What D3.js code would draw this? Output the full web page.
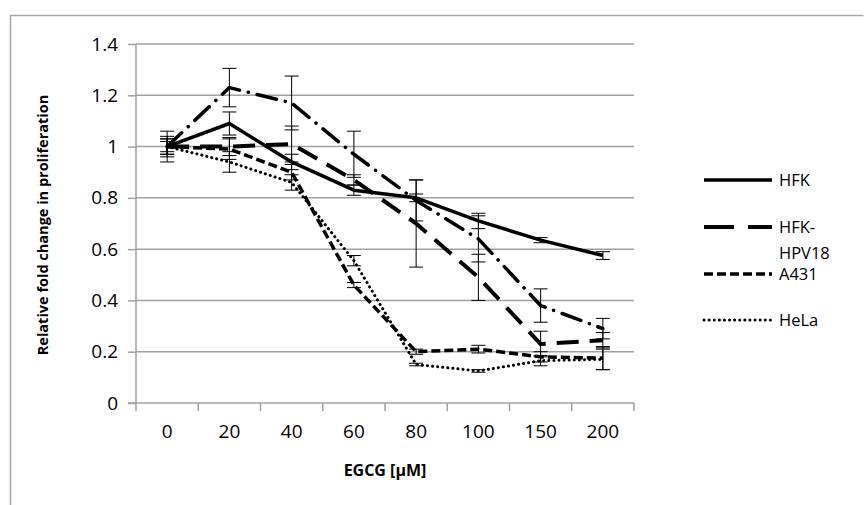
<!DOCTYPE html>
<html>
<head>
<meta charset="utf-8">
<script src="https://cdn.jsdelivr.net/npm/d3@7"></script>
<style>
body { margin: 0; background: #fff; }
svg { font-family: "Open Sans", "Noto Sans", sans-serif; }
</style>
</head>
<body>
<div id="chart"></div>
<script>
// EGCG doses (categories)
var doses = ["0", "20", "40", "60", "80", "100", "150", "200"];
var yTicks = [0, 0.2, 0.4, 0.6, 0.8, 1, 1.2, 1.4];

// values
var hfk      = [1.00, 1.09, 0.94, 0.83, 0.80, 0.71, 0.635, 0.575];
var hfkErr   = [0.03, 0.045, 0.03, 0.02, 0.015, 0.03, 0.01, 0.015];
var hpv18    = [1.00, 1.00, 1.01, 0.87, 0.70, 0.49, 0.23, 0.245];
var hpv18Err = [0.04, 0.035, 0.07, 0.02, 0.17, 0.09, 0.05, 0.03];
var a431     = [1.00, 0.99, 0.90, 0.46, 0.20, 0.21, 0.18, 0.175];
var a431Err  = [0.03, 0.04, 0.03, 0.01, 0.01, 0.015, 0.02, 0.045];
var hela     = [1.00, 0.94, 0.86, 0.555, 0.15, 0.125, 0.165, 0.17];
var helaErr  = [0.06, 0.04, 0.03, 0.02, 0.005, 0.005, 0.02, 0.04];
var other    = [1.00, 1.23, 1.17, 0.97, 0.79, 0.64, 0.38, 0.29];
var otherErr = [0.02, 0.075, 0.105, 0.09, 0.08, 0.09, 0.065, 0.04];

var series = [
  {name: "HFK", values: hfk, err: hfkErr, dash: null, w: 3.5, cap: "butt", legend: true},
  {name: "HFK-HPV18", values: hpv18, err: hpv18Err, dash: "22,11", w: 4, cap: "butt", legend: true},
  {name: "A431", values: a431, err: a431Err, dash: "9,4", w: 3.5, cap: "butt", legend: true},
  {name: "HeLa", values: hela, err: helaErr, dash: "0.1,5", w: 3, cap: "round", legend: true},
  {name: "", values: other, err: otherErr, dash: "20,9,0.1,9", w: 3.5, cap: "round", legend: false}
];

var W = 864, H = 505;
var margin = {left: 136, top: 44, right: 230, bottom: 102};

var svg = d3.select("#chart").append("svg")
  .attr("width", W).attr("height", H);

// outer chart frame
svg.append("path")
  .attr("d", "M10.5," + (H + 2) + "V15.5H863.5")
  .attr("fill", "none").attr("stroke", "#a6a6a6").attr("stroke-width", 1.5);

var xScale = d3.scaleBand().domain(doses).range([margin.left, 634]);
var yScale = d3.scaleLinear().domain([0, 1.4]).range([403, margin.top]);

// gridlines
svg.append("g").selectAll("line").data(yTicks.slice(1)).enter().append("line")
  .attr("x1", margin.left).attr("x2", 634)
  .attr("y1", function(d) { return yScale(d); })
  .attr("y2", function(d) { return yScale(d); })
  .attr("stroke", "#a0a0a0").attr("stroke-width", 1.5);

// y axis
var yaxis = d3.axisLeft(yScale).tickValues(yTicks).tickSize(8).tickPadding(10)
  .tickFormat(function(d) { return d3.format("")(+d.toFixed(1)); });
var gy = svg.append("g").attr("transform", "translate(" + margin.left + ",0)").call(yaxis);
gy.select(".domain").attr("stroke", "#a0a0a0").attr("stroke-width", 1.5)
  .attr("d", "M-8," + yScale(0) + "H0V" + yScale(1.4));
gy.selectAll(".tick line").attr("stroke", "#a0a0a0").attr("stroke-width", 1.5);
gy.selectAll("text").attr("font-size", 19).attr("fill", "#000")
  .attr("font-family", "Open Sans");

// x axis: ticks between categories
var xaxis = d3.axisBottom(xScale).tickSize(0).tickPadding(22);
var gx = svg.append("g").attr("transform", "translate(0," + yScale(0) + ")").call(xaxis);
gx.select(".domain").attr("stroke", "#a0a0a0").attr("stroke-width", 1.5)
  .attr("d", "M" + margin.left + ",0H634");
gx.selectAll("text").attr("font-size", 19).attr("fill", "#000")
  .attr("font-family", "Open Sans");
gx.selectAll(".sep").data(d3.range(doses.length + 1)).enter().append("line")
  .attr("class", "sep")
  .attr("x1", function(i) { return margin.left + i * xScale.step(); })
  .attr("x2", function(i) { return margin.left + i * xScale.step(); })
  .attr("y1", 0).attr("y2", 8)
  .attr("stroke", "#a0a0a0").attr("stroke-width", 1.5);

// axis titles
svg.append("text")
  .attr("transform", "translate(48,225) rotate(-90)")
  .attr("text-anchor", "middle")
  .attr("font-size", 14.5).attr("font-weight", "bold")
  .text("Relative fold change in proliferation");
svg.append("text")
  .attr("x", 385).attr("y", 476)
  .attr("text-anchor", "middle")
  .attr("font-size", 16).attr("font-weight", "bold")
  .text("EGCG [μM]");

var cx = function(i) { return xScale(doses[i]) + xScale.bandwidth() / 2; };

// error bars
var eb = svg.append("g").attr("stroke", "#000").attr("stroke-width", 1);
series.forEach(function(s) {
  s.values.forEach(function(v, i) {
    var x = cx(i), y1 = yScale(v + s.err[i]), y2 = yScale(v - s.err[i]);
    eb.append("line").attr("x1", x).attr("x2", x).attr("y1", y1).attr("y2", y2);
    eb.append("line").attr("x1", x - 7).attr("x2", x + 7).attr("y1", y1).attr("y2", y1);
    eb.append("line").attr("x1", x - 7).attr("x2", x + 7).attr("y1", y2).attr("y2", y2);
  });
});

// lines
var line = d3.line()
  .x(function(d, i) { return cx(i); })
  .y(function(d) { return yScale(d); });

svg.append("g").selectAll("path").data(series).enter().append("path")
  .attr("d", function(s) { return line(s.values); })
  .attr("fill", "none").attr("stroke", "#000")
  .attr("stroke-width", function(s) { return s.w; })
  .attr("stroke-dasharray", function(s) { return s.dash; })
  .attr("stroke-linecap", function(s) { return s.cap; })
  .attr("stroke-linejoin", "round");

// legend
var legY = {"HFK": 180, "HFK-HPV18": 227, "A431": 274, "HeLa": 320};
var leg = svg.append("g");
series.filter(function(s) { return s.legend; }).forEach(function(s) {
  var y = legY[s.name];
  leg.append("line")
    .attr("x1", 704).attr("x2", 772).attr("y1", y).attr("y2", y)
    .attr("stroke", "#000").attr("stroke-width", s.w)
    .attr("stroke-dasharray", s.name === "HFK-HPV18" ? "30,14" : s.dash)
    .attr("stroke-linecap", s.cap);
  var t = leg.append("text").attr("x", 779).attr("y", y + 6)
    .attr("font-size", 16.5).attr("font-family", "Open Sans");
  if (s.name === "HFK-HPV18") {
    t.append("tspan").attr("x", 779).text("HFK-");
    t.append("tspan").attr("x", 779).attr("dy", 26).text("HPV18");
  } else {
    t.text(s.name);
  }
});
</script>
</body>
</html>
